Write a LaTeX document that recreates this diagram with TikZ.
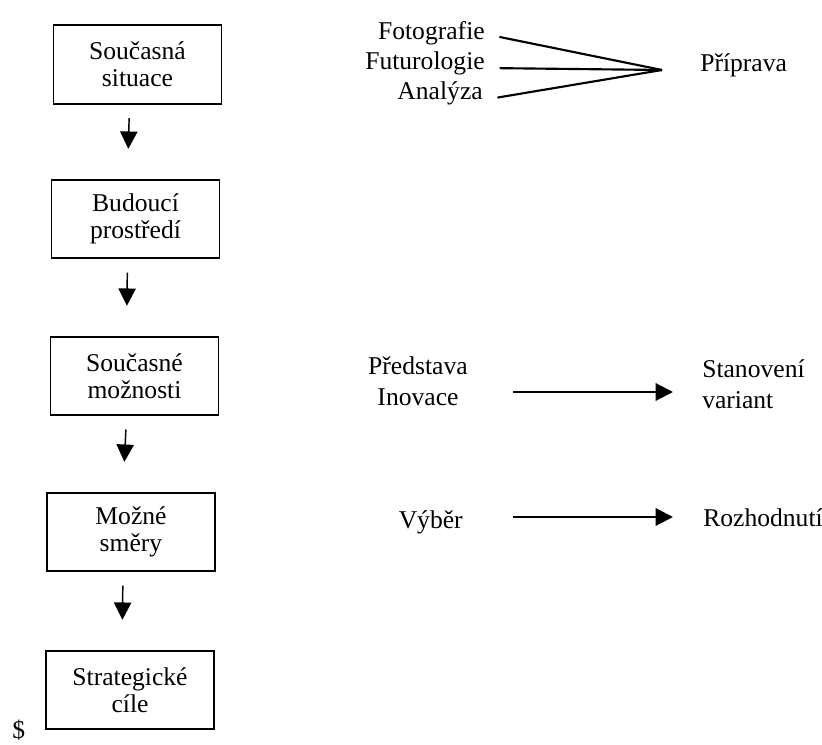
\documentclass[tikz,border=0pt]{standalone}
\usepackage{fontspec}
\setmainfont{Liberation Serif}
\usetikzlibrary{arrows.meta,calc}

\begin{document}
\begin{tikzpicture}[x=0.75pt,y=0.75pt,yscale=-1,xscale=1,
  every node/.style={font=\fontsize{19.2pt}{20.5pt}\selectfont},
  stepbox/.style={draw,line width=1.3pt,minimum width=126pt,minimum height=59pt,align=center,inner sep=0pt},
  sidetext/.style={inner sep=0pt},
  sidetwo/.style={inner sep=0pt,font=\fontsize{19.2pt}{23.5pt}\selectfont},
  downarr/.style={line width=1.1pt,-{Triangle[length=13pt,width=13pt]},shorten <=10pt,shorten >=22.5pt,transform canvas={xshift=-6pt}},
  sidearr/.style={line width=1.6pt,-{Triangle[length=13pt,width=13pt]}},
  fanline/.style={line width=1.6pt,shorten <=11pt}]

\useasboundingbox (0,0) rectangle (822,745);

%Shape: Rectangle boxes
\node[stepbox] (soucasna) at (137.5,64.5) {Současná\\situace};
\node[stepbox] (budouci) at (135.5,219) {Budoucí\\prostředí};
\node[stepbox] (moznosti) at (134.5,376) {Současné\\možnosti};
\node[stepbox] (smery) at (131,532) {Možné\\směry};
\node[stepbox] (cile) at (130,690) {Strategické\\cíle};

%Arrows down
\draw[downarr] (soucasna.south) -- (budouci.north);
\draw[downarr] (budouci.south) -- (moznosti.north);
\draw[downarr] (moznosti.south) -- (smery.north);
\draw[downarr] (smery.south) -- (cile.north);

%Priprava
\node[sidetext,anchor=base east] (foto) at (485,40) {Fotografie};
\node[sidetext,anchor=base east] (futuro) at (485,70) {Futurologie};
\node[sidetext,anchor=base east] (analyza) at (483,100) {Analýza};
\coordinate (hrot) at (662,70);
\node[sidetext,anchor=base west] (priprava) at (700,72) {Příprava};
\draw[fanline] ($(foto.base east)+(0,-6)$) -- (hrot);
\draw[fanline] ($(futuro.base east)+(0,-2)$) -- (hrot);
\draw[fanline] (analyza.base east) -- (hrot);

%Stanoveni variant
\node[sidetwo,align=center] (predstava) at (418,381) {Představa\\Inovace};
\node[sidetwo,align=left,anchor=west] (stanoveni) at (702,384) {Stanovení\\variant};
\draw[sidearr,shorten <=33.75pt,shorten >=21.75pt] ($(predstava.east)+(0,11)$) -- ($(stanoveni.west)+(0,8)$);

%Rozhodnuti
\node[sidetext,anchor=base east] (vyber) at (463,528) {Výběr};
\node[sidetext,anchor=base west] (rozhodnuti) at (703,527) {Rozhodnutí};
\draw[sidearr,shorten <=37.5pt,shorten >=22.5pt] ($(vyber.base east)+(0,-11)$) -- ($(rozhodnuti.base west)+(0,-10)$);

\node[sidetext,anchor=base west] (dolar) at (12,738) {\$};

\end{tikzpicture}
\end{document}
